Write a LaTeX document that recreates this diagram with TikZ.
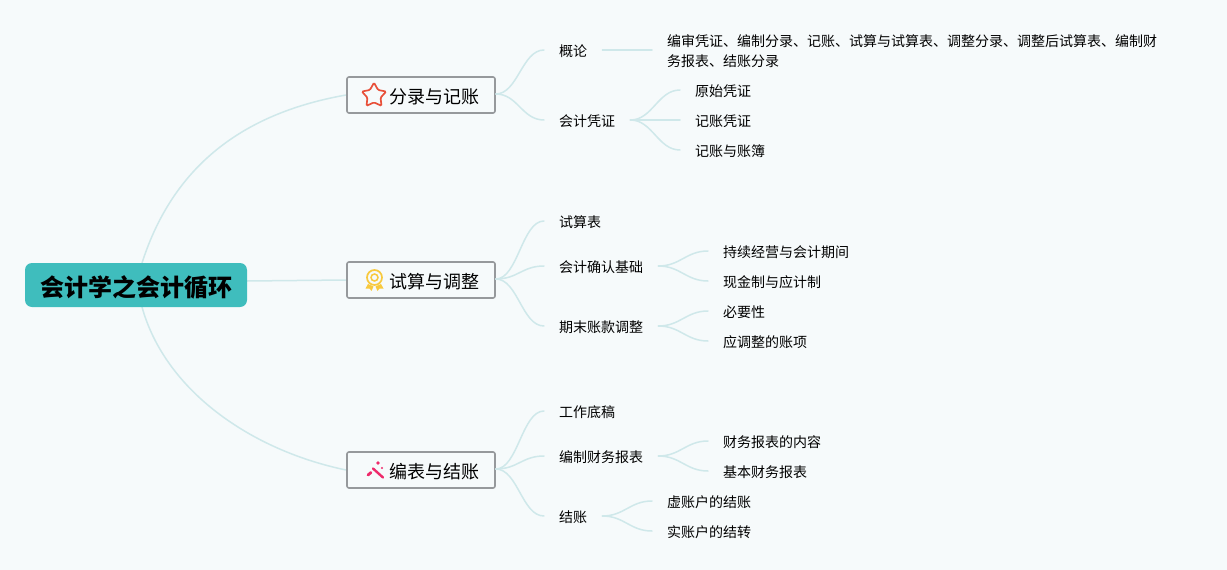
\documentclass[tikz,border=0pt]{standalone}
\usepackage{fontspec}
\setmainfont{Noto Sans CJK SC}
\usetikzlibrary{shapes.geometric}
\definecolor{bgc}{HTML}{F6FAFB}
\definecolor{linkc}{HTML}{CFE8EA}
\definecolor{rootc}{HTML}{3FBDBD}
\definecolor{boxc}{HTML}{96999C}
\definecolor{starc}{HTML}{E8503A}
\definecolor{medalc}{HTML}{F8C93E}
\definecolor{wandc}{HTML}{EE2A6B}
\tikzset{
  x=1pt,y=-1pt,
  rootnode/.style={fill=rootc,rounded corners=7pt,minimum width=222pt,minimum height=44pt,inner sep=0pt,font=\fontsize{24}{28}\selectfont\bfseries,text=black},
  mainnode/.style={draw=boxc,line width=1.6pt,fill=bgc,rounded corners=2pt,minimum width=148pt,minimum height=36pt,inner sep=0pt},
  maintext/.style={font=\fontsize{18}{22}\selectfont,text=black,inner sep=0pt},
  leaf/.style={anchor=west,inner xsep=15pt,inner ysep=3pt,font=\fontsize{14}{20}\selectfont,text=black},
  link/.style={draw=linkc,line width=1.5pt,line cap=round},
  curve/.style={link,to path={.. controls +(22,0) and +(-22,0) .. (\tikztotarget)}},
}
\begin{document}
\begin{tikzpicture}
\useasboundingbox (0,0) rectangle (1227,570);
\fill[bgc] (0,0) rectangle (1227,570);

% anchors for the root's branches
\coordinate (ru) at (142,263);
\coordinate (rm) at (247,281);
\coordinate (rd) at (142,307);

% root branches first, so that the boxes lie above them
\coordinate (m1w) at (346,95);
\coordinate (m2w) at (346,280);
\coordinate (m3w) at (346,470);
\draw[link] (ru) .. controls (175,160) and (250,112) .. (m1w);
\draw[link] (rm) -- (m2w);
\draw[link] (rd) .. controls (165,390) and (250,450) .. (m3w);

% nodes
\node[rootnode] (root) at (136,285) {};
\node[font=\fontsize{24}{28}\selectfont\bfseries,text=black,inner sep=0pt] (roott) at (136.5,287) {会计学之会计循环};
\node[mainnode] (m1) at (421,95) {};
\node[mainnode] (m2) at (421,280) {};
\node[mainnode] (m3) at (421,470) {};
\node[maintext] (t1) at (434.5,97) {分录与记账};
\node[maintext] (t2) at (434.5,282) {试算与调整};
\node[maintext] (t3) at (434.5,472) {编表与结账};

\node[leaf] (a1) at (544,51) {概论};
\node[leaf,align=left] (a1x) at (652,51) {编审凭证、编制分录、记账、试算与试算表、调整分录、调整后试算表、编制财\\务报表、结账分录};
\node[leaf] (a2) at (544,121) {会计凭证};
\node[leaf] (a21) at (680,91) {原始凭证};
\node[leaf] (a22) at (680,121) {记账凭证};
\node[leaf] (a23) at (680,151) {记账与账簿};

\node[leaf] (b1) at (544,222) {试算表};
\node[leaf] (b2) at (544,267) {会计确认基础};
\node[leaf] (b21) at (708,252) {持续经营与会计期间};
\node[leaf] (b22) at (708,282) {现金制与应计制};
\node[leaf] (b3) at (544,327) {期末账款调整};
\node[leaf] (b31) at (708,312) {必要性};
\node[leaf] (b32) at (708,342) {应调整的账项};

\node[leaf] (c1) at (544,412) {工作底稿};
\node[leaf] (c2) at (544,457) {编制财务报表};
\node[leaf] (c21) at (708,442) {财务报表的内容};
\node[leaf] (c22) at (708,472) {基本财务报表};
\node[leaf] (c3) at (544,517) {结账};
\node[leaf] (c31) at (652,502) {虚账户的结账};
\node[leaf] (c32) at (652,532) {实账户的结转};

% connectors
\foreach \p/\c in {m1/a1,m1/a2,m2/b1,m2/b2,m2/b3,m3/c1,m3/c2,m3/c3,
  a2/a21,a2/a22,a2/a23,b2/b21,b2/b22,b3/b31,b3/b32,c2/c21,c2/c22,c3/c31,c3/c32}
  \draw[curve] ([yshift=1pt]\p.east) to ([yshift=1pt]\c.west);
\draw[link] ([yshift=1pt]a1.east) -- ([yshift=1pt]a1x.west);

% icons
\node[star,star points=5,star point ratio=1.85,draw=starc,line width=1.7pt,rounded corners=1.2pt,minimum size=25.5pt,inner sep=0pt] (icstar) at (374,95.5) {};

\draw[medalc,line width=1.7pt] (374.5,277.5) circle (7.5);
\draw[medalc,line width=1.5pt] (374.5,277.5) circle (3.5);
\fill[medalc] (368,284) -- (365.5,288.5) -- (369.5,288.5) -- (371.5,291) -- (373.5,286.5) -- cycle;
\fill[medalc] (381,284) -- (383.5,288.5) -- (379.5,288.5) -- (377.5,291) -- (375.5,286.5) -- cycle;

\draw[wandc,line width=2.4pt,line cap=round] (373,468.5) -- (383,477.5);
\draw[wandc,line width=2.8pt,line cap=round] (368,475) -- (371,472.5);
\fill[wandc] (378,463) circle (1.9);
\fill[wandc] (382,468) circle (1.1);
\end{tikzpicture}
\end{document}
